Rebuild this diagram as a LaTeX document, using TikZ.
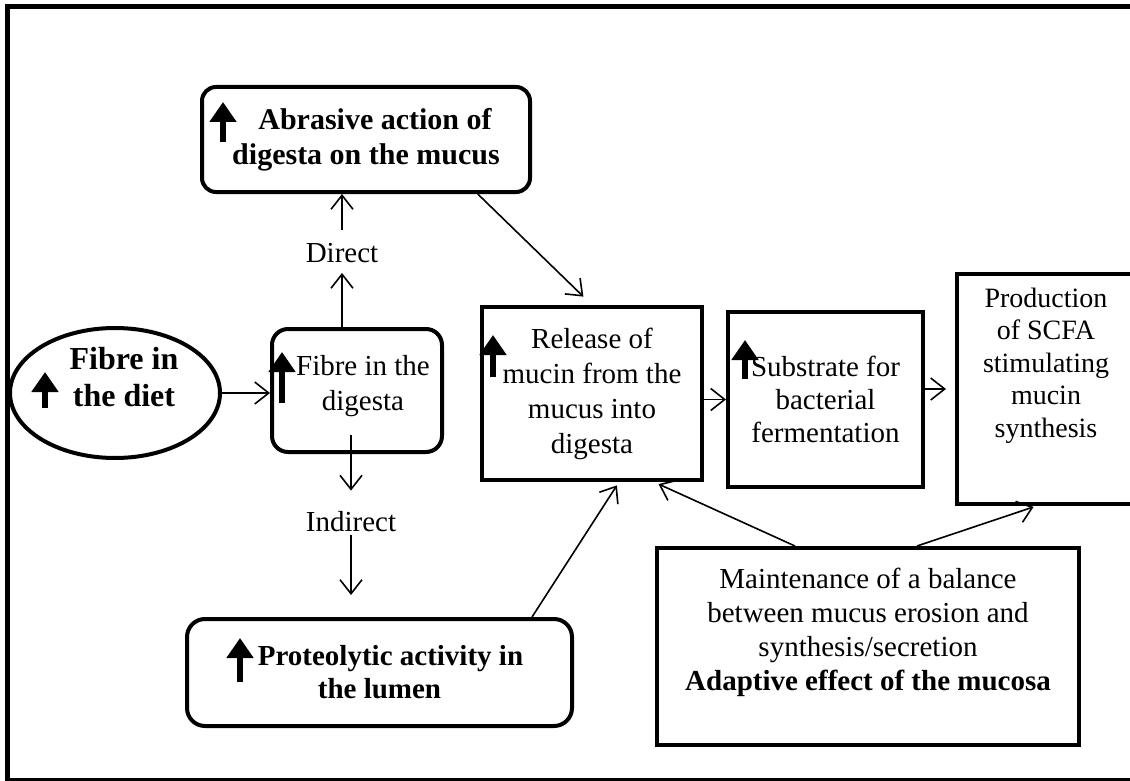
\documentclass[tikz,border=0pt]{standalone}
\usepackage{fontspec}
\setmainfont{Liberation Serif}
\usepackage{tikz}
\usetikzlibrary{arrows.meta, shapes.geometric}

\begin{document}
\begin{tikzpicture}[
  x=1pt, y=-1pt,
  every node/.style={font=\fontsize{29}{35}\selectfont, align=center},
  box/.style={draw, line width=4pt, inner sep=4pt},
  rbox/.style={box, rounded corners=14pt},
  oval/.style={draw, ellipse, line width=4pt, inner sep=0pt},
  lbl/.style={inner sep=3pt},
  arr/.style={-{Straight Barb[length=14pt, width=22pt]}, line width=1.6pt},
  bigup/.style={-{Triangle[length=20pt, width=26pt]}, line width=6pt},
]
  \useasboundingbox (0,0) rectangle (1130,781);
  \clip (0,0) rectangle (1130,781);

  % frame
  \draw[line width=5pt] (5,6.5) -- (1130,6.5);
  \draw[line width=5pt] (7.5,4) -- (7.5,781);
  \draw[line width=3pt] (5,779) -- (1130,779);

  \node[oval, minimum width=210pt, minimum height=130pt,
        label={[font=\fontsize{32}{37}\selectfont\bfseries, align=center,
                xshift=9pt, yshift=16pt]center:Fibre in\\the diet}]
        (diet) at (115,393) {};
  \node[rbox, minimum width=328pt, minimum height=105pt,
        font=\fontsize{30}{35}\selectfont\bfseries]
        (abr) at (366,139.5) {\hspace*{18pt}Abrasive action of\\digesta on the mucus};
  \node[rbox, minimum width=170pt, minimum height=123pt, rounded corners=16pt]
        (dig) at (357,390.5) {\hspace*{12pt}Fibre in the\\\hspace*{12pt}digesta\\[-20pt]\mbox{}};
  \node[lbl] (dir) at (342,253) {Direct};
  \node[lbl] (ind) at (351,522) {Indirect};
  \node[box, minimum width=220pt, minimum height=173pt]
        (rel) at (592,393.5) {Release of\\mucin from the\\mucus into\\digesta};
  \node[box, minimum width=195pt, minimum height=175pt,
        font=\fontsize{29}{33}\selectfont]
        (sub) at (825.5,399.5) {Substrate for\\bacterial\\fermentation};
  \node[box, minimum width=200pt, minimum height=230pt,
        font=\fontsize{28}{32.5}\selectfont]
        (prod) at (1057,389) {\hspace*{-22pt}Production\\\hspace*{-22pt}of SCFA\\\hspace*{-22pt}stimulating\\\hspace*{-22pt}mucin\\\hspace*{-22pt}synthesis\\[20pt]\mbox{}};
  \node[rbox, minimum width=385pt, minimum height=107pt, rounded corners=18pt,
        font=\fontsize{29}{33}\selectfont\bfseries]
        (prot) at (379.5,672.5) {\hspace*{22pt}Proteolytic activity in\\the lumen};
  \node[box, minimum width=422pt, minimum height=197pt,
        font=\fontsize{29}{34}\selectfont]
        (mnt) at (868,646.5) {Maintenance of a balance\\between mucus erosion and\\synthesis/secretion\\\textbf{Adaptive effect of the mucosa}\\\mbox{}};

  % increase marks
  \foreach \x/\ya/\yb in {45/408/372, 282/403/352, 223/142/102,
                          493/377/335, 745/379/340, 240/682/638}
    \draw[bigup] (\x,\ya) -- (\x,\yb);

  \draw[arr] (diet.east) -- (diet.east -| dig.west);
  \draw[arr, shorten >=7pt] (dig.north -| dir) -- (dir.south);
  \draw[arr, shorten <=10pt] (dir.north) -- (dir.north |- abr.south);
  \draw[arr, shorten <=-19pt, shorten >=18pt] (dig.south -| ind) -- (ind.north);
  \draw[arr, shorten >=22pt] (ind.south) -- (ind.south |- prot.north);
  \draw[arr, shorten >=12pt] (abr.-26) -- (rel.north);
  \draw[arr] (rel.east |- sub) -- (sub.west);
  \draw[arr, shorten >=9pt] (sub.east |- prod) -- (prod.west);
  \draw[arr, shorten >=4pt] (prot.20) -- (rel.-73);
  \draw[arr, shorten >=5pt] (mnt.126) -- (rel.-55);
  \draw[arr, shorten >=3pt] (mnt.64) -- (prod.-100);
\end{tikzpicture}
\end{document}
